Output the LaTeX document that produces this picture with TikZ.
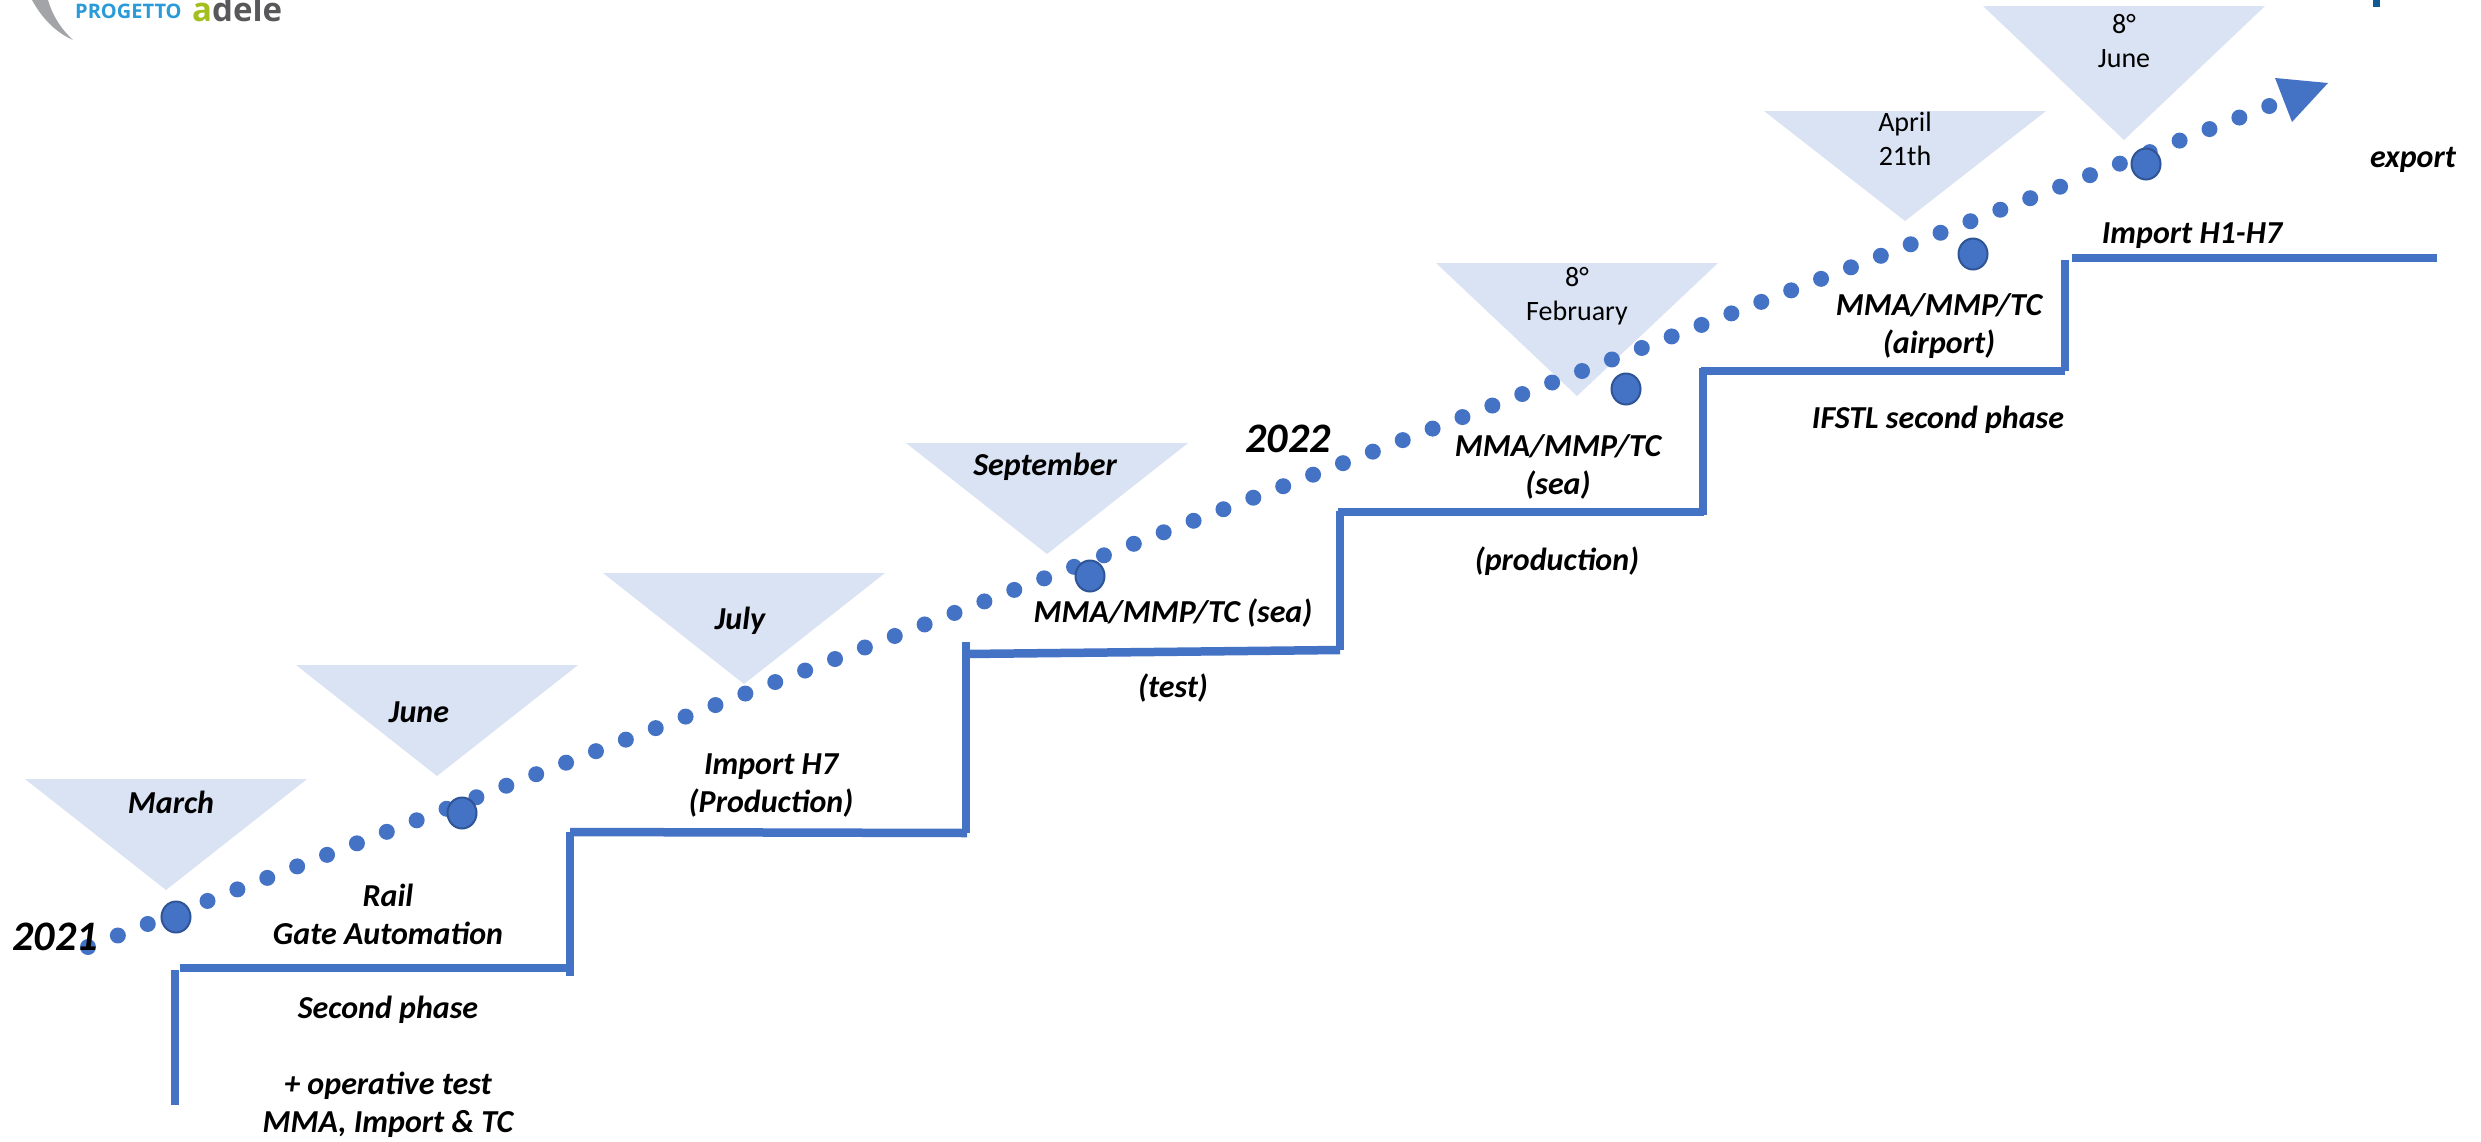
\documentclass[tikz,border=0pt]{standalone}
\usepackage{fontspec}
\setmainfont{Carlito}
\newfontfamily\logofont{Open Sans}
\definecolor{stepblue}{HTML}{4472C4}
\definecolor{tribg}{HTML}{DAE3F3}
\definecolor{ringblue}{HTML}{2F5597}
\definecolor{logoblue}{HTML}{2A9BD8}
\definecolor{logogreen}{HTML}{A3BF1E}
\definecolor{logogray}{HTML}{58585A}
\definecolor{cresc}{HTML}{A2A4A8}
\definecolor{markblue}{HTML}{0F5C94}
\tikzset{
  stepline/.style={draw=stepblue,line width=8.5pt,line cap=butt,line join=miter},
  tri/.style={fill=tribg,draw=none},
  small dot/.style={fill=stepblue,draw=none},
  milestone/.style={fill=stepblue,draw=ringblue,line width=2pt},
  lab/.style={align=center,inner sep=0pt,font=\fontsize{32}{38}\selectfont\bfseries\itshape},
  yearlab/.style={align=center,inner sep=0pt,font=\fontsize{42}{46}\selectfont\bfseries\itshape},
  plain/.style={align=center,inner sep=0pt,font=\fontsize{28}{34}\selectfont}
}
\begin{document}
\begin{tikzpicture}[x=1pt,y=-1pt]
\useasboundingbox (0,0) rectangle (2481,1141);
\fill[white] (0,0) rectangle (2481,1141);
% logo
\fill[cresc] (32,0) .. controls (42,18) and (55,32) .. (73,40) .. controls (60,28) and (52,14) .. (48,0) -- cycle;
\node[anchor=base west,inner sep=0pt,text=logoblue,font=\logofont\fontsize{20}{20}\selectfont\bfseries] (logoa) at (75,18) {PROGETTO};
\node[anchor=base west,inner sep=0pt,text=logogray,font=\logofont\fontsize{33}{33}\selectfont\bfseries] (logob) at (192,21) {\textcolor{logogreen}{a}dele};
\fill[markblue] (2373,0) rectangle (2380,7);
% triangles
\foreach \x/\y/\h in {166/779/111, 437/665/111, 744/573/111, 1047/443/111, 1577/263/133, 1905/111/110, 2124/6/134}{
  \fill[tri] (\x-141,\y) -- (\x+141,\y) -- (\x,\y+\h) -- cycle;
}
% dots
\foreach \i in {0,...,73}{
  \fill[small dot] ({88+\i*29.88},{947-\i*11.52}) circle (8);
}
\fill[stepblue] (2275,78) -- (2328,83) -- (2292,122) -- cycle;
% milestones
\foreach \x/\y in {176/917,462/813,1090/576,1626/389,1973/254,2146/164}{
  \fill[milestone] (\x,\y) ellipse (14.5 and 15.5);
}
% steps
\draw[stepline] (175,1105) -- (175,970);
\draw[stepline] (180,968) -- (570,968);
\draw[stepline] (570,976) -- (570,832);
\draw[stepline] (570,832) -- (967,833);
\draw[stepline] (966,833) -- (966,642);
\draw[stepline] (966,654) -- (1340,650);
\draw[stepline] (1340,650) -- (1340,511);
\draw[stepline] (1338,512) -- (1704,512);
\draw[stepline] (1703,515) -- (1703,368);
\draw[stepline] (1701,371) -- (2065,371);
\draw[stepline] (2065,371) -- (2065,260);
\draw[stepline] (2072,258) -- (2437,258);
% labels
\node[yearlab] (y21) at (55,937) {2021};
\node[yearlab] (y22) at (1288,439) {2022};
\node[lab] (m1) at (171,802) {March};
\node[lab] (m2) at (419,712) {June};
\node[lab] (m3) at (740,621) {July};
\node[lab] (m4) at (1045,467) {September};
\node[plain] (m5) at (1577,296) {8°\\February};
\node[plain] (m6) at (1905,139) {April\\21th};
\node[plain] (m7) at (2124,41) {8°\\June};
\node[lab] (t1) at (388,914) {Rail\\Gate Automation};
\node[lab] (t2) at (388,1010) {Second phase};
\node[lab] (t3) at (388,1105) {+ operative test\\MMA, Import \& TC};
\node[lab] (t4) at (771,786) {Import H7\\(Production)};
\node[lab] (t5) at (1173,613) {MMA/MMP/TC (sea)};
\node[lab] (t6) at (1173,688) {(test)};
\node[lab] (t7) at (1558,467) {MMA/MMP/TC\\(sea)};
\node[lab] (t8) at (1557,561) {(production)};
\node[lab] (t9) at (1939,326) {MMA/MMP/TC\\(airport)};
\node[lab] (t10) at (1938,420) {IFSTL second phase};
\node[lab] (t11) at (2192,236) {Import H1-H7};
\node[lab] (t12) at (2413,160) {export};
\end{tikzpicture}
\end{document}
